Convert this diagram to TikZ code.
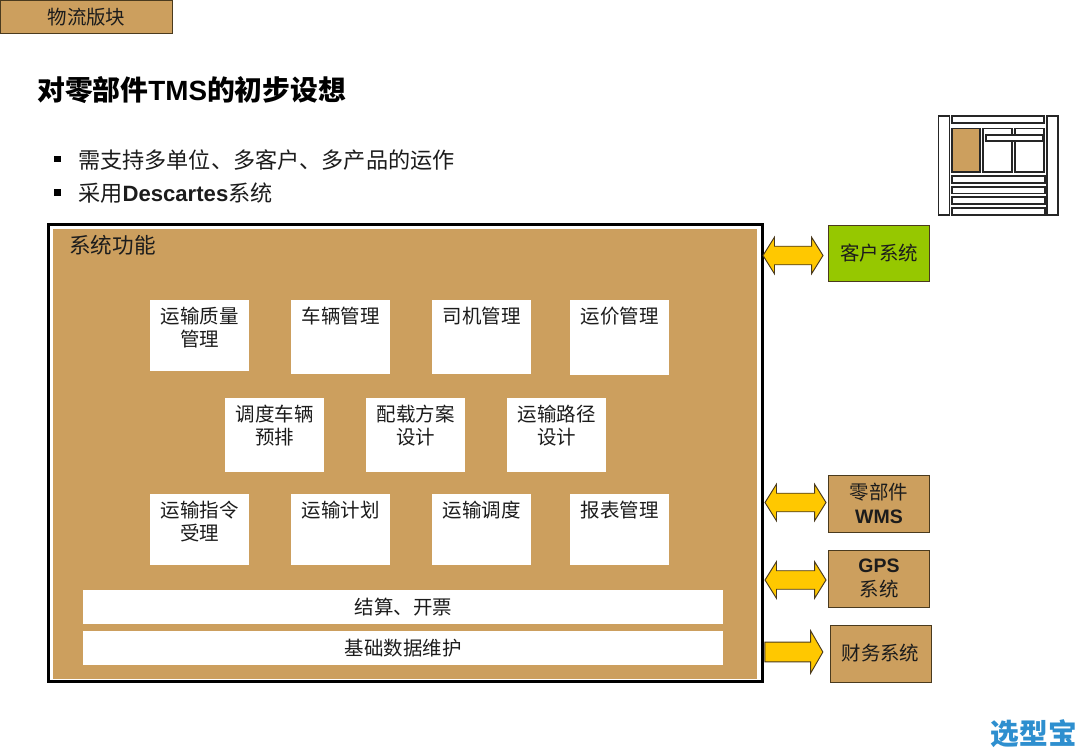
\documentclass[tikz,border=0pt]{standalone}
\usepackage{fontspec}
\setmainfont{Noto Sans CJK SC}
\newfontfamily\lat{Liberation Sans}
\usetikzlibrary{shapes.arrows}
\definecolor{tanfill}{HTML}{CC9F5E}
\definecolor{edge}{HTML}{4A3A1E}
\definecolor{limefill}{HTML}{96C800}
\definecolor{gold}{HTML}{FFC800}
\definecolor{ink}{HTML}{1C1C1C}
\definecolor{logoblue}{HTML}{2E8FCF}
\newcommand{\fs}[2]{\fontsize{#1}{#2}\selectfont}
\newcommand{\boxtxt}[3]{\parbox[c][\dimexpr #2pt*3/4\relax][t]{\dimexpr #1pt*3/4\relax}{\centering\fs{14.6}{17.6}\vspace{5pt}#3\par}}
\tikzset{
  x=0.75pt,y=-0.75pt,
  whitebox/.style={fill=white,draw=none,inner sep=0pt,text=ink,anchor=north west},
  sysbox/.style={fill=tanfill,draw=edge,line width=0.7pt,outer sep=0pt,inner sep=0pt,text=ink,align=center,font=\fs{14.6}{17.6},anchor=north west},
  link2/.style={double arrow,fill=gold,draw=edge,line width=0.7pt,outer sep=0pt,inner sep=0pt,double arrow head extend=6.8pt,double arrow tip angle=116,anchor=center},
  link1/.style={single arrow,fill=gold,draw=edge,line width=0.7pt,outer sep=0pt,inner sep=0pt,single arrow head extend=8.4pt,single arrow tip angle=120,anchor=center},
  wire/.style={draw=black!85,line width=1pt,outer sep=0pt,fill=white,inner sep=0pt,anchor=north west},
}
\newcommand{\wb}[6]{\node[whitebox,minimum width=#4*0.75pt,minimum height=#5*0.75pt] (#1) at (#2,#3) {\boxtxt{#4}{#5}{#6}};}
\newcommand{\sysb}[6]{\node[sysbox,minimum width=#4*0.75pt,minimum height=#5*0.75pt] (#1) at (#2,#3) {#6};}
\begin{document}
\begin{tikzpicture}
\useasboundingbox (0,0) rectangle (1080,748);
\fill[white] (0,0) rectangle (1080,748);
% tab
\node[sysbox,minimum width=172*0.75pt,minimum height=33*0.75pt] (tab) at (0.5,0.3) {物流版块};
% title
\node[anchor=west,inner sep=0pt,text=black,font=\fs{20.85}{24}\bfseries] (title) at (37,90) {对零部件{\lat\bfseries TMS}的初步设想};
% bullets
\node[fill=black,minimum size=5pt,inner sep=0pt] (b1) at (57.5,159) {};
\node[fill=black,minimum size=5pt,inner sep=0pt] (b2) at (57.5,192.5) {};
\node[anchor=west,inner sep=0pt,text=ink,font=\fs{16.6}{20}] (t1) at (78,160) {需支持多单位、多客户、多产品的运作};
\node[anchor=west,inner sep=0pt,text=ink,font=\fs{16.6}{20}] (t2) at (78,193) {采用{\lat\bfseries Descartes}系统};
% main panel
\node[draw=black,line width=2.2pt,outer sep=0pt,fill=white,inner sep=0pt,minimum width=714*0.75pt,minimum height=457*0.75pt,anchor=north west] (panel) at (48.5,224.5) {};
\node[fill=tanfill,inner sep=0pt,minimum width=704*0.75pt,minimum height=450*0.75pt,anchor=north west] (inner) at (53,229) {};
\node[anchor=west,inner sep=0pt,text=ink,font=\fs{16.2}{20}] (sys) at (69,245) {系统功能};
% row 1
\wb{a1}{150}{300}{99}{71}{运输质量\\管理}
\wb{a2}{291}{300}{99}{74}{车辆管理}
\wb{a3}{432}{300}{99}{74}{司机管理}
\wb{a4}{570}{300}{99}{75}{运价管理}
% row 2
\wb{c1}{225}{398}{99}{74}{调度车辆\\预排}
\wb{c2}{366}{398}{99}{74}{配载方案\\设计}
\wb{c3}{507}{398}{99}{74}{运输路径\\设计}
% row 3
\wb{d1}{150}{494}{99}{71}{运输指令\\受理}
\wb{d2}{291}{494}{99}{71}{运输计划}
\wb{d3}{432}{494}{99}{71}{运输调度}
\wb{d4}{570}{494}{99}{71}{报表管理}
% bars
\node[fill=white,inner sep=0pt,text=ink,font=\fs{14.6}{18},minimum width=640*0.75pt,minimum height=34*0.75pt,anchor=north west] (e1) at (83,590) {结算、开票};
\node[fill=white,inner sep=0pt,text=ink,font=\fs{14.6}{18},minimum width=640*0.75pt,minimum height=34*0.75pt,anchor=north west] (e2) at (83,631) {基础数据维护};
% side systems
\node[sysbox,fill=limefill,minimum width=101*0.75pt,minimum height=56*0.75pt] (s1) at (828.5,225) {客户系统};
\sysb{s2}{828.5}{475}{101}{57}{零部件\\{\lat\bfseries WMS}}
\sysb{s3}{828.5}{550}{101}{57}{{\lat\bfseries GPS}\\系统}
\sysb{s4}{830}{625}{101}{57}{财务系统}
% arrows
\node[link2,minimum height=60*0.75pt,minimum width=36*0.75pt] (l1) at (793,255.5) {\rule{0pt}{13.2pt}};
\node[link2,minimum height=61*0.75pt,minimum width=36*0.75pt] (l2) at (795.5,502.5) {\rule{0pt}{13.2pt}};
\node[link2,minimum height=61*0.75pt,minimum width=36*0.75pt] (l3) at (795.5,580) {\rule{0pt}{13.2pt}};
\node[link1,minimum height=58*0.75pt,minimum width=41*0.75pt] (l4) at (791,652) {\rule{0pt}{14.2pt}};
% thumbnail
\node[wire,minimum width=11*0.75pt,minimum height=99*0.75pt] (w1) at (938.5,116) {};
\node[wire,minimum width=11*0.75pt,minimum height=99*0.75pt] (w2) at (1047,116) {};
\node[wire,minimum width=92*0.75pt,minimum height=7*0.75pt] (w3) at (952,116) {};
\node[wire,fill=tanfill,minimum width=28*0.75pt,minimum height=43.5*0.75pt] (w4) at (952,128.5) {};
\node[wire,minimum width=29*0.75pt,minimum height=43.5*0.75pt] (w5) at (983,128.5) {};
\node[wire,minimum width=29*0.75pt,minimum height=43.5*0.75pt] (w6) at (1015,128.5) {};
\node[wire,minimum width=57*0.75pt,minimum height=6*0.75pt] (w7) at (986,135) {};
\node[wire,minimum width=93*0.75pt,minimum height=7*0.75pt] (w8) at (952,176) {};
\node[wire,minimum width=93*0.75pt,minimum height=6.5*0.75pt] (w9) at (952,187) {};
\node[wire,minimum width=93*0.75pt,minimum height=7*0.75pt] (w10) at (952,197) {};
\node[wire,minimum width=93*0.75pt,minimum height=7*0.75pt] (w11) at (952,208) {};
% logo
\node[anchor=east,inner sep=0pt,text=logoblue,font=\fs{21.5}{24}\bfseries] (logo) at (1077,734) {选型宝};
\end{tikzpicture}
\end{document}
